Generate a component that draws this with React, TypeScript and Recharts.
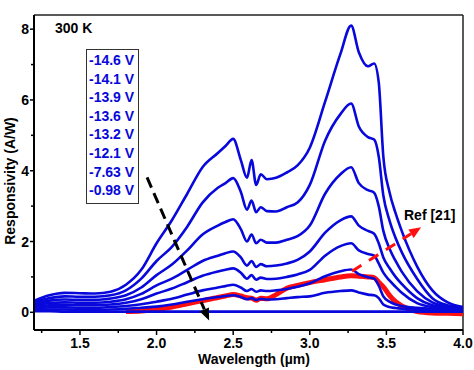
import { LineChart, Line, XAxis, YAxis, ReferenceLine } from 'recharts';

// wavelength grid (µm)
const wavelength = [1.2, 1.3, 1.4, 1.5, 1.6, 1.7, 1.8, 1.9, 2.0, 2.1, 2.2, 2.3, 2.4, 2.45, 2.5, 2.55, 2.59, 2.62, 2.65, 2.68, 2.72, 2.78, 2.85, 2.92, 3.0, 3.1, 3.2, 3.27, 3.32, 3.38, 3.42, 3.45, 3.48, 3.52, 3.56, 3.6, 3.7, 3.8, 3.9, 4.0];

// responsivity (A/W) per bias
const r146 = [0.32, 0.48, 0.55, 0.54, 0.53, 0.58, 0.78, 1.2, 1.95, 2.6, 3.35, 4.1, 4.5, 4.7, 4.9, 4.3, 3.8, 4.3, 3.6, 3.9, 3.76, 3.8, 3.95, 4.15, 4.65, 5.95, 7.3, 8.1, 7.35, 6.95, 7.03, 6.5, 4.4, 3.4, 2.8, 2.3, 1.3, 0.62, 0.28, 0.15];
const r141 = [0.28, 0.4, 0.45, 0.44, 0.44, 0.48, 0.62, 0.95, 1.45, 1.85, 2.42, 3.1, 3.52, 3.65, 3.79, 3.4, 2.9, 3.16, 2.83, 2.97, 2.86, 2.85, 2.97, 3.1, 3.6, 4.85, 5.6, 5.9, 5.25, 4.95, 4.88, 4.4, 3.3, 2.6, 2.1, 1.7, 0.95, 0.4, 0.2, 0.14];
const r139 = [0.24, 0.33, 0.36, 0.35, 0.35, 0.39, 0.48, 0.7, 1.05, 1.35, 1.75, 2.2, 2.45, 2.55, 2.63, 2.35, 2.0, 2.2, 1.95, 2.05, 1.97, 1.97, 2.05, 2.15, 2.45, 3.35, 3.9, 4.1, 3.65, 3.45, 3.38, 3.0, 2.3, 1.8, 1.45, 1.15, 0.6, 0.28, 0.16, 0.12];
const r136 = [0.2, 0.26, 0.28, 0.27, 0.27, 0.3, 0.37, 0.52, 0.76, 0.95, 1.2, 1.45, 1.6, 1.67, 1.72, 1.55, 1.32, 1.45, 1.28, 1.36, 1.3, 1.32, 1.38, 1.48, 1.72, 2.25, 2.6, 2.71, 2.45, 2.3, 2.22, 1.95, 1.55, 1.25, 1.0, 0.8, 0.4, 0.2, 0.14, 0.11];
const r132 = [0.16, 0.2, 0.21, 0.2, 0.2, 0.22, 0.27, 0.37, 0.53, 0.67, 0.85, 1.03, 1.15, 1.2, 1.24, 1.12, 0.95, 1.05, 0.92, 0.98, 0.94, 0.95, 1.0, 1.07, 1.2, 1.6, 1.87, 1.95, 1.75, 1.65, 1.6, 1.38, 1.12, 0.9, 0.72, 0.55, 0.26, 0.15, 0.11, 0.1];
const r121 = [0.12, 0.14, 0.14, 0.13, 0.13, 0.15, 0.18, 0.23, 0.3, 0.38, 0.5, 0.62, 0.7, 0.74, 0.78, 0.7, 0.6, 0.66, 0.58, 0.62, 0.6, 0.62, 0.66, 0.72, 0.82, 1.02, 1.16, 1.21, 1.08, 0.99, 0.95, 0.75, 0.45, 0.3, 0.22, 0.18, 0.13, 0.1, 0.09, 0.08];
const r763 = [0.07, 0.08, 0.08, 0.07, 0.07, 0.08, 0.1, 0.13, 0.16, 0.22, 0.3, 0.37, 0.43, 0.46, 0.48, 0.43, 0.37, 0.4, 0.35, 0.38, 0.36, 0.37, 0.4, 0.43, 0.45, 0.55, 0.6, 0.62, 0.56, 0.5, 0.48, 0.4, 0.22, 0.15, 0.12, 0.1, 0.08, 0.07, 0.07, 0.07];
const r098 = [0.03, 0.03, 0.02, 0.02, 0.02, 0.02, 0.02, 0.02, 0.02, 0.02, 0.02, 0.02, 0.02, 0.02, 0.02, 0.02, 0.02, 0.02, 0.02, 0.02, 0.02, 0.02, 0.02, 0.02, 0.02, 0.02, 0.02, 0.02, 0.02, 0.02, 0.02, 0.02, 0.02, 0.02, 0.02, 0.02, 0.02, 0.02, 0.02, 0.02];
// Ref [21]
const ref21 = [null, null, null, null, null, null, 0.02, 0.04, 0.08, 0.15, 0.24, 0.33, 0.42, 0.46, 0.5, 0.46, 0.41, 0.4, 0.34, 0.4, 0.38, 0.5, 0.68, 0.76, 0.84, 0.92, 1.0, 1.03, 1.02, 1.0, 0.98, 0.85, 0.72, 0.48, 0.3, 0.18, 0.02, -0.02, -0.03, -0.04];

const seriesKeys = ['r146', 'r141', 'r139', 'r136', 'r132', 'r121', 'r763', 'r098'];
const biasLabels = ['-14.6 V', '-14.1 V', '-13.9 V', '-13.6 V', '-13.2 V', '-12.1 V', '-7.63 V', '-0.98 V'];

const xTicks = [1.25, 1.5, 1.75, 2.0, 2.25, 2.5, 2.75, 3.0, 3.25, 3.5, 3.75, 4.0];
const xMajor = [1.5, 2.0, 2.5, 3.0, 3.5, 4.0];
const yTicks = [0, 1, 2, 3, 4, 5, 6, 7, 8];
const yMajor = [0, 2, 4, 6, 8];

const biasArrow = [{ x: 1.938, y: 3.81 }, { x: 2.343, y: -0.23 }];
const refArrow = [{ x: 3.276, y: 1.16 }, { x: 3.727, y: 2.4 }];

const rows = wavelength.map((w, i) => ({
  w,
  r146: r146[i], r141: r141[i], r139: r139[i], r136: r136[i],
  r132: r132[i], r121: r121[i], r763: r763[i], r098: r098[i],
  ref21: ref21[i],
}));

const FONT = 'Arial, "Liberation Sans", sans-serif';
const BLUE = '#0808dc';
const RED = '#ff1010';

const XTick = (props: any) => {
  const { x, y, payload } = props;
  const major = xMajor.includes(payload.value);
  return (
    <g>
      <line x1={x} y1={y} x2={x} y2={y + (major ? 5 : 3)} stroke="#000" strokeWidth={1.5} />
      {major && (
        <text x={x} y={y + 18} textAnchor="middle" fontFamily={FONT} fontWeight="bold" fontSize={14} fill="#000">
          {payload.value.toFixed(1)}
        </text>
      )}
    </g>
  );
};

const YTick = (props: any) => {
  const { x, y, payload } = props;
  const major = yMajor.includes(payload.value);
  return (
    <g>
      <line x1={x} y1={y} x2={x - (major ? 4 : 3)} y2={y} stroke="#000" strokeWidth={1.5} />
      {major && (
        <text x={x - 5} y={y + 5} textAnchor="end" fontFamily={FONT} fontWeight="bold" fontSize={14} fill="#000">
          {payload.value}
        </text>
      )}
    </g>
  );
};

const arrowShape = (color: string, dash: string) => (p: any) => {
  const { x1, y1, x2, y2 } = p;
  const ang = Math.atan2(y2 - y1, x2 - x1);
  const len = 12;
  const half = 5;
  const bx = x2 - len * Math.cos(ang);
  const by = y2 - len * Math.sin(ang);
  const nx = -Math.sin(ang) * half;
  const ny = Math.cos(ang) * half;
  return (
    <g>
      <line x1={x1} y1={y1} x2={bx} y2={by} stroke={color} strokeWidth={3} strokeDasharray={dash} />
      <polygon points={`${x2},${y2} ${bx + nx},${by + ny} ${bx - nx},${by - ny}`} fill={color} />
    </g>
  );
};

export default function App() {
  return (
    <div style={{ position: 'absolute', left: 0, top: 0, width: 474, height: 370, background: '#fff' }}>
      <LineChart width={474} height={370} data={rows} margin={{ top: 15, right: 11, bottom: 0, left: 0 }}>
        <XAxis
          dataKey="w"
          type="number"
          domain={[1.2, 4.0]}
          ticks={xTicks}
          interval={0}
          tick={<XTick />}
          tickLine={false}
          tickSize={0}
          tickMargin={0}
          height={40}
          axisLine={{ stroke: '#000', strokeWidth: 2 }}
          allowDataOverflow
        />
        <YAxis
          type="number"
          domain={[-0.5, 8.4]}
          ticks={yTicks}
          interval={0}
          tick={<YTick />}
          tickLine={false}
          tickSize={0}
          tickMargin={0}
          width={34}
          axisLine={{ stroke: '#000', strokeWidth: 2 }}
          allowDataOverflow
        />
        <ReferenceLine y={8.4} stroke="#222" strokeWidth={1.5} />
        <ReferenceLine x={4.0} stroke="#222" strokeWidth={1.5} />
        <Line dataKey="ref21" stroke={RED} strokeWidth={5} dot={false} type="monotone" isAnimationActive={false} />
        {seriesKeys.map((k) => (
          <Line key={k} dataKey={k} stroke={BLUE} strokeWidth={2.6} dot={false} type="monotone" isAnimationActive={false} />
        ))}
        <ReferenceLine segment={biasArrow} ifOverflow="visible" shape={arrowShape('#000', '11 6')} />
        <ReferenceLine segment={refArrow} ifOverflow="visible" shape={arrowShape(RED, '11 9')} />
      </LineChart>
      <svg width={474} height={370} style={{ position: 'absolute', left: 0, top: 0, pointerEvents: 'none' }}>
        <text x={55} y={33} fontFamily={FONT} fontWeight="bold" fontSize={14} fill="#000">300 K</text>
        <rect x={86.5} y={49.5} width={52} height={154} fill="#fff" stroke="#333" strokeWidth={1} />
        {biasLabels.map((b, i) => (
          <text key={b} x={89} y={65 + i * 18.6} fontFamily={FONT} fontWeight="bold" fontSize={14} fill={BLUE}>{b}</text>
        ))}
        <text x={404} y={220} fontFamily={FONT} fontWeight="bold" fontSize={14} fill="#000">Ref [21]</text>
        <text x={254} y={364} textAnchor="middle" fontFamily={FONT} fontWeight="bold" fontSize={14} fill="#000">Wavelength (µm)</text>
        <text x={15} y={181} textAnchor="middle" transform="rotate(-90 15 181)" fontFamily={FONT} fontWeight="bold" fontSize={14} fill="#000">Responsivity (A/W)</text>
      </svg>
    </div>
  );
}
